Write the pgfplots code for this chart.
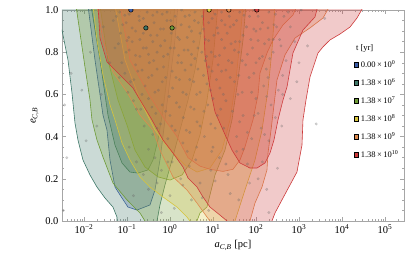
\documentclass[border=0pt]{standalone}
\usepackage{pgfplots}
\pgfplotsset{compat=1.18}
\usepackage{fontspec}
\setmainfont{Liberation Serif}
\definecolor{tBlue}{RGB}{59,92,166}
\definecolor{tTeal}{RGB}{62,119,104}
\definecolor{tOlive}{RGB}{110,154,54}
\definecolor{tYellow}{RGB}{214,196,60}
\definecolor{tOrange}{RGB}{222,138,78}
\definecolor{tRed}{RGB}{204,58,58}
\pgfplotsset{reg/.style={draw=#1, fill=#1, fill opacity=0.27, draw opacity=1, line width=0.6pt, forget plot},
  table/lt/.style={row sep=\\, x expr={pow(10,\thisrow{lx})}, y=e}}
\begin{document}
\begin{tikzpicture}
\path[use as bounding box] (-62pt,-43pt) rectangle (353pt,221pt);
\begin{axis}[
  scale only axis, width=342pt, height=211pt,
  xmode=log, xmin=3.08e-3, xmax=2.77e5, ymin=0, ymax=1,
  clip marker paths=true,
  axis line style={draw=gray!70, line width=0.5pt},
  tick align=inside, major tick length=4pt, minor tick length=2pt,
  every tick/.style={gray!70, line width=0.4pt},
  xtick={0.01,0.1,1,10,100,1000,10000,100000},
  xticklabels={10\textsuperscript{−2},10\textsuperscript{−1},10\textsuperscript{0},10\textsuperscript{1},10\textsuperscript{2},10\textsuperscript{3},10\textsuperscript{4},10\textsuperscript{5}},
  minor xtick={0.004,0.005,0.006,0.007,0.008,0.009,0.02,0.03,0.04,0.05,0.06,0.07,0.08,0.09,0.2,0.3,0.4,0.5,0.6,0.7,0.8,0.9,2,3,4,5,6,7,8,9,20,30,40,50,60,70,80,90,200,300,400,500,600,700,800,900,2000,3000,4000,5000,6000,7000,8000,9000,20000,30000,40000,50000,60000,70000,80000,90000,200000},
  ytick={0,0.2,0.4,0.6,0.8,1},
  yticklabels={0.0,0.2,0.4,0.6,0.8,1.0},
  minor ytick={0.05,0.1,0.15,0.25,0.3,0.35,0.45,0.5,0.55,0.65,0.7,0.75,0.85,0.9,0.95},
  tick label style={font=\fontsize{10.5}{12}\selectfont},
  label style={font=\fontsize{10.5}{12}\selectfont},
  xlabel={\textit{a}\textsubscript{\textit{C},\textit{B}} [pc]},
  ylabel={\textit{e}\textsubscript{\textit{C},\textit{B}}},
  legend image code/.code={\fill[#1] (0pt,-2.1pt) rectangle (4.2pt,2.1pt);},
  legend style={at={(0.845,0.775)}, anchor=north west, draw=none, fill=none,
    font=\fontsize{8.5}{10}\selectfont, row sep=8pt, column sep=1.5pt,
    nodes={inner sep=0.5pt, text height=7pt, text depth=2pt}},
  legend cell align=left,
]
% blue outer
\addplot[reg=tBlue] table[lt] {
lx e\\ -1.907 1.02\\ -1.744 0.763\\ -1.558 0.502\\ -1.465 0.431\\ -1.395 0.289\\ -1.279 0.161\\ -1.116 0.109\\ -0.977 0.066\\ -0.767 0.052\\ -0.465 0.076\\ -0.349 0.147\\ -0.233 0.289\\ -0.116 0.479\\ 0.0 0.668\\ 0.116 0.858\\ 0.186 1.02\\
} -- cycle;
% teal outer
\addplot[reg=tTeal] table[lt] {
lx e\\ -2.7 1.02\\ -2.7 0.93\\ -2.512 0.905\\ -2.372 0.763\\ -2.279 0.607\\ -2.209 0.464\\ -2.140 0.384\\ -2.023 0.289\\ -1.860 0.218\\ -1.698 0.161\\ -1.512 0.109\\ -1.326 0.066\\ -1.233 0.019\\ -1.233 -0.02\\ -0.302 -0.02\\ -0.302 0.0\\ -0.233 0.076\\ -0.116 0.171\\ 0.047 0.289\\ 0.233 0.431\\ 0.419 0.573\\ 0.581 0.716\\ 0.698 0.858\\ 0.814 1.02\\
} -- cycle;
% teal inner
\addplot[reg=tTeal] table[lt] {
lx e\\ -1.837 1.02\\ -1.628 0.763\\ -1.442 0.502\\ -1.279 0.360\\ -1.116 0.275\\ -0.930 0.232\\ -0.744 0.227\\ -0.512 0.242\\ -0.395 0.289\\ -0.279 0.384\\ -0.163 0.526\\ -0.047 0.716\\ 0.047 0.882\\ 0.116 1.02\\
} -- cycle;
% olive outer
\addplot[reg=tOlive] table[lt] {
lx e\\ -2.186 1.02\\ -2.093 0.891\\ -1.977 0.730\\ -1.860 0.573\\ -1.814 0.479\\ -1.698 0.384\\ -1.558 0.303\\ -1.326 0.180\\ -1.000 0.100\\ -0.698 0.038\\ -0.581 0.0\\ -0.581 -0.02\\ 0.628 -0.02\\ 0.628 0.0\\ 0.698 0.038\\ 0.860 0.066\\ 1.047 0.218\\ 1.279 0.336\\ 1.442 0.479\\ 1.581 0.668\\ 1.698 0.858\\ 1.767 1.02\\
} -- cycle;
% olive inner
\addplot[reg=tOlive] table[lt] {
lx e\\ -1.628 1.02\\ -1.442 0.763\\ -1.209 0.573\\ -1.000 0.455\\ -0.814 0.336\\ -0.581 0.256\\ -0.279 0.209\\ 0.0 0.194\\ 0.279 0.218\\ 0.512 0.289\\ 0.698 0.408\\ 0.860 0.573\\ 1.000 0.763\\ 1.116 1.02\\
} -- cycle;
% yellow outer
\addplot[reg=tYellow] table[lt] {
lx e\\ -1.791 1.02\\ -1.698 0.858\\ -1.558 0.692\\ -1.395 0.550\\ -1.279 0.479\\ -1.116 0.370\\ -0.930 0.289\\ -0.698 0.209\\ -0.465 0.161\\ -0.163 0.114\\ 0.163 0.066\\ 0.395 0.019\\ 0.465 0.0\\ 0.465 -0.02\\ 1.512 -0.02\\ 1.512 0.0\\ 1.744 0.147\\ 1.977 0.289\\ 2.140 0.431\\ 2.279 0.621\\ 2.372 0.810\\ 2.442 1.02\\
} -- cycle;
% yellow inner
\addplot[reg=tYellow] table[lt] {
lx e\\ -1.279 1.02\\ -1.047 0.763\\ -0.698 0.573\\ -0.349 0.431\\ 0.0 0.336\\ 0.349 0.265\\ 0.628 0.232\\ 0.930 0.251\\ 1.209 0.336\\ 1.395 0.479\\ 1.535 0.668\\ 1.628 0.858\\ 1.698 1.02\\
} -- cycle;
% orange outer
\addplot[reg=tOrange] table[lt] {
lx e\\ -1.698 1.02\\ -1.558 0.858\\ -1.326 0.706\\ -1.000 0.611\\ -0.698 0.502\\ -0.395 0.431\\ -0.233 0.336\\ 0.070 0.209\\ 0.395 0.147\\ 0.628 0.085\\ 0.860 0.019\\ 0.930 0.0\\ 0.930 -0.02\\ 1.860 -0.02\\ 1.860 0.0\\ 1.977 0.085\\ 2.140 0.161\\ 2.256 0.242\\ 2.280 0.322\\ 2.350 0.431\\ 2.419 0.550\\ 2.488 0.668\\ 2.674 0.787\\ 2.907 0.867\\ 3.256 0.915\\ 3.558 0.962\\ 3.721 1.02\\
} -- cycle;
% orange inner
\addplot[reg=tOrange] table[lt] {
lx e\\ -1.163 1.02\\ -0.930 0.763\\ -0.465 0.590\\ -0.116 0.479\\ 0.163 0.400\\ 0.419 0.300\\ 0.698 0.260\\ 0.930 0.245\\ 1.233 0.235\\ 1.465 0.245\\ 1.628 0.289\\ 1.744 0.351\\ 1.860 0.431\\ 1.930 0.479\\ 2.047 0.597\\ 2.093 0.701\\ 2.256 0.796\\ 2.395 0.858\\ 2.628 0.929\\ 2.860 0.976\\ 2.953 1.02\\
} -- cycle;
% red outer
\addplot[reg=tRed] table[lt] {
lx e\\ -1.674 1.02\\ -1.628 0.867\\ -1.465 0.754\\ -1.163 0.692\\ -0.860 0.630\\ -0.628 0.550\\ -0.419 0.479\\ -0.163 0.384\\ 0.070 0.322\\ 0.302 0.256\\ 0.419 0.204\\ 0.628 0.161\\ 0.767 0.114\\ 0.930 0.066\\ 1.163 0.028\\ 1.326 0.0\\ 1.326 -0.02\\ 2.372 -0.02\\ 2.372 0.0\\ 2.442 0.038\\ 2.628 0.109\\ 2.953 0.232\\ 3.070 0.360\\ 3.093 0.479\\ 3.163 0.573\\ 3.256 0.682\\ 3.442 0.796\\ 3.558 0.825\\ 3.721 0.858\\ 3.953 0.886\\ 4.186 0.919\\ 4.349 0.962\\ 4.512 1.02\\
} -- cycle;
% red inner
\addplot[reg=tRed] table[lt] {
lx e\\ 0.767 1.02\\ 0.814 0.787\\ 0.930 0.630\\ 1.047 0.517\\ 1.233 0.431\\ 1.442 0.336\\ 1.628 0.275\\ 1.860 0.251\\ 2.023 0.251\\ 2.209 0.275\\ 2.326 0.322\\ 2.419 0.384\\ 2.512 0.479\\ 2.628 0.573\\ 2.721 0.635\\ 2.860 0.796\\ 3.093 0.905\\ 3.372 0.967\\ 3.442 1.02\\
} -- cycle;
% scatter
\addplot[only marks, mark=*, mark size=1.4pt, mark options={draw=black!60, fill=black!60, opacity=0.3, line width=0.1pt}, forget plot] table[lt] {
lx e\\
-1.25 0.97\\ -1.10 0.93\\ -0.95 0.98\\ -0.80 0.90\\ -0.62 0.96\\ -0.45 0.88\\ -0.30 0.99\\ -0.15 0.91\\ 0.02 0.95\\ 0.18 0.87\\ 0.35 0.97\\ 0.50 0.90\\ 0.66 0.94\\ 0.82 0.86\\ 0.98 0.96\\ 1.12 0.89\\ 1.28 0.93\\ 1.42 0.84\\
-1.20 0.84\\ -1.02 0.80\\ -0.88 0.85\\ -0.70 0.78\\ -0.55 0.82\\ -0.38 0.76\\ -0.22 0.83\\ -0.05 0.79\\ 0.10 0.82\\ 0.27 0.75\\ 0.42 0.81\\ 0.58 0.77\\ 0.74 0.80\\ 0.90 0.73\\ 1.05 0.78\\ 1.20 0.71\\ 1.36 0.76\\
-1.05 0.70\\ -0.92 0.66\\ -0.75 0.71\\ -0.58 0.64\\ -0.42 0.69\\ -0.27 0.62\\ -0.10 0.68\\ 0.06 0.63\\ 0.22 0.67\\ 0.38 0.60\\ 0.55 0.66\\ 0.70 0.61\\ 0.86 0.65\\ 1.00 0.58\\ 1.16 0.63\\ 1.30 0.57\\
-0.85 0.57\\ -0.68 0.53\\ -0.50 0.58\\ -0.33 0.51\\ -0.18 0.55\\ 0.00 0.50\\ 0.15 0.56\\ 0.31 0.49\\ 0.48 0.54\\ 0.63 0.47\\ 0.79 0.52\\ 0.95 0.46\\ 1.10 0.50\\ 1.25 0.44\\
-0.60 0.45\\ -0.40 0.41\\ -0.22 0.46\\ -0.05 0.39\\ 0.12 0.43\\ 0.30 0.37\\ 0.46 0.42\\ 0.62 0.35\\ 0.80 0.40\\ 0.97 0.33\\
1.55 0.95\\ 1.70 0.88\\ 1.85 0.97\\ 2.00 0.90\\ 2.15 0.94\\ 2.30 0.86\\ 2.48 0.92\\ 2.65 0.97\\
1.60 0.80\\ 1.76 0.74\\ 1.92 0.82\\ 2.08 0.77\\ 2.24 0.72\\ 2.40 0.80\\ 2.58 0.83\\
1.50 0.66\\ 1.68 0.61\\ 1.84 0.68\\ 2.00 0.58\\ 2.18 0.64\\ 2.35 0.55\\ 2.52 0.62\\
1.45 0.52\\ 1.62 0.47\\ 1.80 0.42\\ 1.96 0.50\\ 2.12 0.44\\ 2.30 0.38\\ 2.60 0.45\\ 2.80 0.58\\ 2.95 0.66\\
-0.95 0.35\\ -0.78 0.28\\ -0.62 0.22\\ -0.50 0.15\\ -0.35 0.30\\ -0.20 0.24\\ 0.05 0.28\\ 0.25 0.20\\ 0.45 0.26\\ 0.70 0.18\\ 0.95 0.24\\ 1.15 0.30\\ 1.35 0.22\\ 1.55 0.33\\ 1.80 0.27\\ 2.05 0.20\\ 2.25 0.15\\ 0.50 0.10\\ -0.85 0.12\\ 0.10 0.06\\ 1.60 0.10\\ 2.50 0.25\\
-2.45 0.55\\ -2.30 0.70\\ -2.05 0.62\\ -1.85 0.80\\ -1.70 0.45\\ -1.95 0.38\\ -1.60 0.60\\ -2.40 0.30\\ -1.55 0.92\\ -1.40 0.75\\ -2.48 0.05\\ 3.40 0.46\\ 3.20 0.83\\ 3.60 0.96\\
-1.17 0.99\\ -0.87 1.00\\ -0.53 0.99\\ -0.07 0.99\\ 0.27 1.00\\ 0.58 0.99\\ 0.90 1.00\\ 1.20 0.99\\
-1.32 0.95\\ -1.02 0.94\\ -0.71 0.95\\ -0.37 0.94\\ -0.07 0.95\\ 0.26 0.93\\ 0.57 0.95\\ 0.90 0.94\\ 1.20 0.95\\ 1.48 0.93\\
-1.15 0.89\\ -0.96 0.87\\ -0.62 0.89\\ -0.30 0.88\\ 0.03 0.89\\ 0.40 0.87\\ 0.70 0.89\\ 1.02 0.88\\ 1.33 0.89\\
-1.28 0.82\\ -0.95 0.81\\ -0.62 0.82\\ -0.30 0.80\\ 0.01 0.82\\ 0.33 0.81\\ 0.65 0.82\\ 0.96 0.80\\ 1.27 0.82\\ 1.50 0.81\\
-1.12 0.75\\ -0.80 0.74\\ -0.48 0.75\\ -0.15 0.73\\ 0.18 0.75\\ 0.49 0.74\\ 0.82 0.76\\ 1.12 0.74\\ 1.44 0.75\\
-1.18 0.68\\ -0.84 0.67\\ -0.50 0.68\\ -0.18 0.66\\ 0.14 0.68\\ 0.46 0.67\\ 0.78 0.69\\ 1.08 0.67\\ 1.40 0.68\\
-0.98 0.61\\ -0.65 0.60\\ -0.35 0.61\\ -0.02 0.59\\ 0.30 0.61\\ 0.62 0.60\\ 0.94 0.62\\ 1.24 0.60\\
-0.78 0.53\\ -0.42 0.54\\ -0.10 0.52\\ 0.22 0.54\\ 0.56 0.53\\ 0.88 0.55\\ 1.18 0.53\\
-0.30 0.44\\ 0.04 0.45\\ 0.38 0.43\\ 0.70 0.45\\ 1.05 0.44\\
1.62 0.99\\ 1.95 1.00\\ 2.30 0.99\\ 2.75 0.99\\ 3.05 1.00\\
1.78 0.92\\ 2.10 0.91\\ 2.42 0.93\\ 2.80 0.92\\
1.52 0.85\\ 1.88 0.86\\ 2.20 0.84\\ 2.55 0.86\\ 2.90 0.85\\
1.68 0.76\\ 2.00 0.75\\ 2.32 0.77\\ 2.70 0.76\\ 3.00 0.75\\
1.60 0.69\\ 1.95 0.70\\ 2.28 0.68\\ 2.62 0.69\\
1.58 0.60\\ 1.90 0.61\\ 2.25 0.59\\ 2.62 0.60\\
1.70 0.50\\ 2.05 0.51\\ 2.45 0.49\\
1.55 0.40\\ 1.90 0.39\\ 2.20 0.41\\
-0.50 0.34\\ 0.40 0.33\\ 1.00 0.35\\ 1.70 0.34\\
-0.05 0.28\\ 0.60 0.29\\ 1.30 0.27\\ 2.15 0.28\\
-0.30 0.18\\ 0.30 0.17\\ 1.05 0.19\\ 1.85 0.18\\
0.00 0.12\\ 0.75 0.11\\ 1.40 0.13\\
-0.20 0.04\\ 0.90 0.05\\ 2.30 0.04\\
-1.05 0.975\\ -0.72 0.97\\ -0.40 0.975\\ -0.18 0.98\\ 0.12 0.97\\ 0.45 0.975\\ 0.75 0.97\\ 1.05 0.98\\ 1.38 0.97\\ 1.72 0.975\\ 2.05 0.97\\ 2.45 0.98\\
-0.88 0.915\\ -0.55 0.92\\ -0.22 0.91\\ 0.12 0.915\\ 0.45 0.92\\ 0.78 0.91\\ 1.10 0.915\\ 1.40 0.92\\ 1.95 0.91\\ 2.28 0.915\\
-1.00 0.855\\ -0.70 0.86\\ -0.40 0.85\\ -0.12 0.855\\ 0.22 0.86\\ 0.55 0.85\\ 0.90 0.855\\ 1.20 0.86\\ 1.62 0.85\\ 2.05 0.855\\ 2.40 0.86\\
-0.80 0.785\\ -0.50 0.79\\ -0.15 0.78\\ 0.20 0.785\\ 0.50 0.79\\ 0.85 0.78\\ 1.15 0.785\\ 1.80 0.79\\ 2.15 0.78\\
-0.65 0.715\\ -0.30 0.72\\ 0.05 0.71\\ 0.35 0.715\\ 0.65 0.72\\ 0.98 0.71\\ 1.30 0.715\\
};
% initial-position markers
\addplot[only marks, mark=*, mark size=2.2pt, mark options={draw=black, line width=0.5pt, fill=tBlue}, forget plot] coordinates {(0.123,1)};
\addplot[only marks, mark=*, mark size=2.2pt, mark options={draw=black, line width=0.5pt, fill=tTeal}, forget plot] coordinates {(0.275,0.915)};
\addplot[only marks, mark=*, mark size=2.2pt, mark options={draw=black, line width=0.5pt, fill=tOlive}, forget plot] coordinates {(1.12,0.915)};
\addplot[only marks, mark=*, mark size=2.2pt, mark options={draw=black, line width=0.5pt, fill=tYellow}, forget plot] coordinates {(8.13,1)};
\addplot[only marks, mark=*, mark size=2.2pt, mark options={draw=black, line width=0.5pt, fill=tOrange}, forget plot] coordinates {(23.4,1)};
\addplot[only marks, mark=*, mark size=2.2pt, mark options={draw=black, line width=0.5pt, fill=tRed}, forget plot] coordinates {(104.7,1)};
% legend
\addlegendimage{fill=tBlue}\addlegendentry{0.00\,×\,10\textsuperscript{0}}
\addlegendimage{fill=tTeal}\addlegendentry{1.38\,×\,10\textsuperscript{6}}
\addlegendimage{fill=tOlive}\addlegendentry{1.38\,×\,10\textsuperscript{7}}
\addlegendimage{fill=tYellow}\addlegendentry{1.38\,×\,10\textsuperscript{8}}
\addlegendimage{fill=tOrange}\addlegendentry{1.38\,×\,10\textsuperscript{9}}
\addlegendimage{fill=tRed}\addlegendentry{1.38\,×\,10\textsuperscript{10}}
\node[font=\fontsize{8.5}{10}\selectfont] at (rel axis cs:0.885,0.82) {t [yr]};
\end{axis}
\end{tikzpicture}
\end{document}
